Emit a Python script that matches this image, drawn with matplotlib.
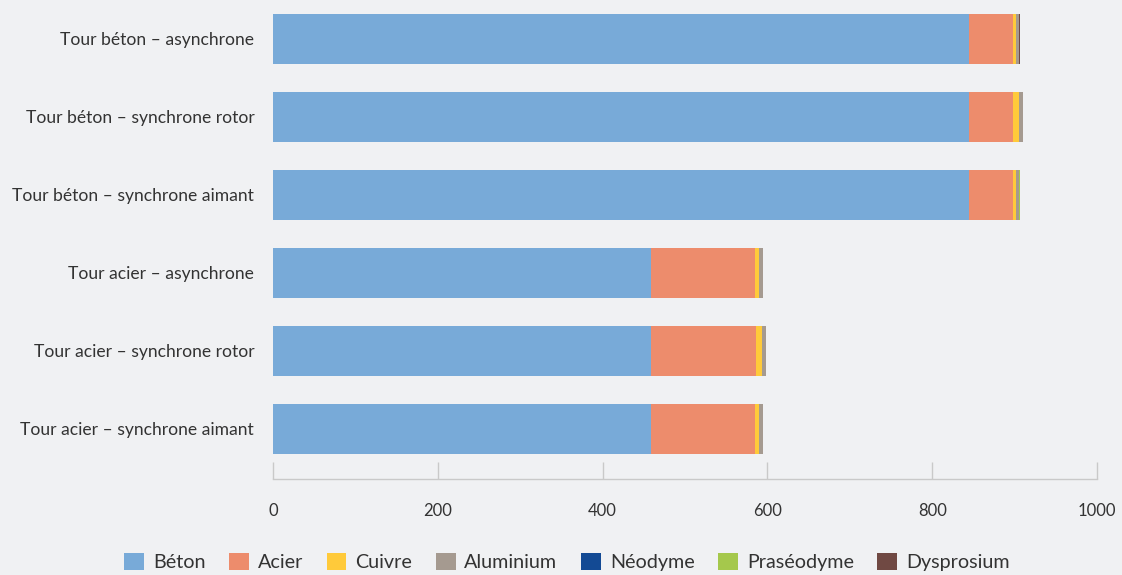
import matplotlib
matplotlib.use("Agg")
import matplotlib.pyplot as plt
from matplotlib.patches import Patch
import numpy as np

plt.rcParams['font.family'] = ['Lato', 'DejaVu Sans']

categories = [
    "Tour béton – asynchrone",
    "Tour béton – synchrone rotor",
    "Tour béton – synchrone aimant",
    "Tour acier – asynchrone",
    "Tour acier – synchrone rotor",
    "Tour acier – synchrone aimant",
]
materials = ["Béton", "Acier", "Cuivre", "Aluminium", "Néodyme", "Praséodyme", "Dysprosium"]
colors = ["#78aad8", "#ed8c6c", "#ffca3a", "#a59a90", "#134a94", "#a5c84c", "#704943"]

beton = [845, 845, 845, 459, 459, 459]
acier = [53, 53, 53, 126, 127, 126]
cuivre = [3.6, 7.2, 3.6, 4.9, 7.3, 4.9]
aluminium = [4.0, 4.9, 4.0, 4.8, 4.8, 4.8]
neodyme = [0, 0, 0.1, 0, 0, 0]
praseodyme = [0, 0, 1.2, 0, 0, 0]
dysprosium = [1.4, 0, 0, 0, 0, 0]

series = [beton, acier, cuivre, aluminium, neodyme, praseodyme, dysprosium]

bg = "#f0f1f3"
fig = plt.figure(figsize=(11.22, 5.75), dpi=100, facecolor=bg)
ax = fig.add_axes([273 / 1122, (575 - 479) / 575, 824 / 1122, 479 / 575], facecolor=bg)

y = np.arange(len(categories))
left = np.zeros(len(categories))
for vals, col in zip(series, colors):
    vals = np.array(vals, dtype=float)
    ax.barh(y, vals, left=left, height=0.64, color=col, linewidth=0)
    left += vals

ax.set_xlim(0, 1000)
ax.set_ylim(5 + 50 / 78, -0.5)
ax.set_yticks(y)
ax.set_yticklabels(categories, fontsize=12.6, color="#333333")
ax.tick_params(axis='y', length=0, pad=13.5)
ax.set_xticks([0, 200, 400, 600, 800, 1000])
ax.tick_params(axis='x', direction='in', length=12, width=1, color="#c9c9c9",
               labelsize=12, labelcolor="#333333", pad=17)
for s in ["top", "right", "left"]:
    ax.spines[s].set_visible(False)
ax.spines["bottom"].set_color("#c9c9c9")
ax.spines["bottom"].set_linewidth(1)

handles = [Patch(facecolor=c, edgecolor='none', label=m) for m, c in zip(materials, colors)]
fig.legend(handles=handles, loc="center", bbox_to_anchor=(567 / 1122, 1 - 562 / 575),
           ncol=7, frameon=False, fontsize=14.2, handlelength=1.0, handleheight=1.0,
           handletextpad=0.45, columnspacing=1.2, labelcolor="#333333")

fig.savefig("out.png", dpi=100, facecolor=bg)
